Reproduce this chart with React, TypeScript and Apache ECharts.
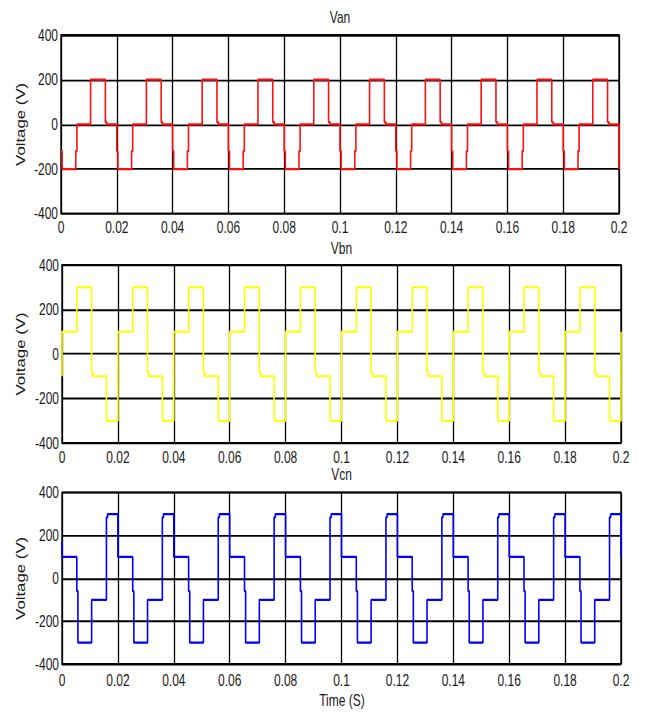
import React, { useEffect, useRef } from "react";
import * as echarts from "echarts";

// ---- data ----
const cycleStarts = [0, 0.02, 0.04, 0.06, 0.08, 0.1, 0.12, 0.14, 0.16, 0.18];

const xTicks = [0, 0.02, 0.04, 0.06, 0.08, 0.1, 0.12, 0.14, 0.16, 0.18, 0.2];
const xTickLabels = ["0", "0.02", "0.04", "0.06", "0.08", "0.1", "0.12", "0.14", "0.16", "0.18", "0.2"];
const yTickLabels = ["-400", "-200", "0", "200", "400"];

// Van (one period: time offset in s, voltage in V)
const vanLeadT: number[] = [];
const vanLeadV: number[] = [];
const vanCycleT = [0, 0.0004, 0.0004, 0.0053, 0.0053, 0.0057, 0.0057, 0.0106, 0.0106, 0.0159, 0.0159, 0.0164, 0.0164, 0.02];
const vanCycleV = [-120, -120, -200, -200, -120, -120, 0, 0, 200, 200, 10, 10, 0, 0];
const vanTailT = [0.2];
const vanTailV = [-200];

// Vbn
const vbnLeadT = [0];
const vbnLeadV = [-100];
const vbnCycleT = [0, 0.0053, 0.0053, 0.0106, 0.0106, 0.011, 0.011, 0.0159, 0.0159, 0.02];
const vbnCycleV = [100, 100, 300, 300, -80, -80, -100, -100, -300, -300];
const vbnTailT = [0.2];
const vbnTailV = [100];

// Vcn
const vcnLeadT = [0];
const vcnLeadV = [170];
const vcnCycleT = [0, 0.0053, 0.0053, 0.0057, 0.0057, 0.0106, 0.0106, 0.0159, 0.0159, 0.0163, 0.0163, 0.02];
const vcnCycleV = [100, 100, -60, -60, -300, -300, -100, -100, 285, 285, 300, 300];
const vcnTailT = [0.2];
const vcnTailV = [100];

const titles = ["Van", "Vbn", "Vcn"];
const colors = ["#ff1010", "#ffff00", "#0000ff"];

function build(leadT: number[], leadV: number[], cT: number[], cV: number[], tT: number[], tV: number[]) {
  const out: number[][] = [];
  leadT.forEach((t, i) => out.push([t, leadV[i]]));
  cycleStarts.forEach((t0) => {
    cT.forEach((o, i) => out.push([+(t0 + o).toFixed(5), cV[i]]));
  });
  tT.forEach((t, i) => out.push([t, tV[i]]));
  return out;
}

const FULL_H = 713;
const H = 509;
const S = FULL_H / H;

export default function App() {
  const ref = useRef<HTMLDivElement>(null);
  useEffect(() => {
    if (!ref.current) return;
    const chart = echarts.init(ref.current, undefined, { renderer: "svg" });
    const font = "Arial, 'Liberation Sans', sans-serif";
    const txt = "#1a1a1a";
    const grids = [
      { left: 61, top: 35 / S, width: 558, height: (213.7 - 35) / S },
      { left: 62, top: 265 / S, width: 559, height: (443 - 265) / S },
      { left: 62, top: 492.7 / S, width: 559, height: (664 - 492.7) / S },
    ];
    const labelMargins = [4, 4, 5.5];
    const titleY = [17.5 / S, 248 / S, 474 / S];
    const data = [
      build(vanLeadT, vanLeadV, vanCycleT, vanCycleV, vanTailT, vanTailV),
      build(vbnLeadT, vbnLeadV, vbnCycleT, vbnCycleV, vbnTailT, vbnTailV),
      build(vcnLeadT, vcnLeadV, vcnCycleT, vcnCycleV, vcnTailT, vcnTailV),
    ];
    const graphic: any[] = [];
    grids.forEach((g, i) => {
      graphic.push({
        type: "text",
        x: g.left + g.width / 2,
        y: titleY[i],
        style: { text: titles[i], fill: txt, font: `12px ${font}`, textAlign: "center", textVerticalAlign: "middle" },
      });
      graphic.push({
        type: "text",
        x: 21,
        y: g.top + g.height / 2,
        rotation: Math.PI / 2,
        style: { text: "Voltage (V)", fill: txt, font: `12px ${font}`, textAlign: "center", textVerticalAlign: "middle" },
      });
    });
    graphic.push({
      type: "text",
      x: 342,
      y: 700 / S,
      style: { text: "Time (S)", fill: txt, font: `12px ${font}`, textAlign: "center", textVerticalAlign: "middle" },
    });

    chart.setOption({
      animation: false,
      backgroundColor: "#ffffff",
      grid: grids.map((g) => ({ ...g, show: true, borderColor: "#000", borderWidth: 1.3, containLabel: false })),
      xAxis: grids.map((g, i) => ({
        type: "value",
        gridIndex: i,
        min: 0,
        max: 0.2,
        interval: 0.02,
        axisLine: { show: false },
        axisTick: { show: false },
        splitLine: { show: true, lineStyle: { color: "#000", width: 1.3 } },
        axisLabel: {
          margin: labelMargins[i],
          fontSize: 12,
          fontFamily: font,
          color: txt,
          showMaxLabel: true,
          showMinLabel: true,
          formatter: (v: number) => {
            const k = xTicks.findIndex((t) => Math.abs(t - v) < 1e-6);
            return k >= 0 ? xTickLabels[k] : "";
          },
        },
      })),
      yAxis: grids.map((g, i) => ({
        type: "value",
        gridIndex: i,
        min: -400,
        max: 400,
        interval: 200,
        axisLine: { show: false },
        axisTick: { show: false },
        splitLine: { show: true, lineStyle: { color: "#000", width: 1.3 } },
        axisLabel: {
          margin: 3,
          fontSize: 12,
          fontFamily: font,
          color: txt,
          formatter: (v: number) => yTickLabels[Math.round((v + 400) / 200)] ?? "",
        },
      })),
      series: data.map((d, i) => ({
        type: "line",
        xAxisIndex: i,
        yAxisIndex: i,
        data: d,
        showSymbol: false,
        symbol: "none",
        clip: true,
        lineStyle: { color: colors[i], width: 1.6 },
        z: 3,
      })),
      graphic,
    });
    return () => chart.dispose();
  }, []);

  return (
    <div style={{ position: "absolute", left: 0, top: 0, width: 646, height: FULL_H, overflow: "hidden", background: "#fff" }}>
      <div
        ref={ref}
        style={{ width: 646, height: H, transform: `scaleY(${S})`, transformOrigin: "0 0" }}
      />
    </div>
  );
}
